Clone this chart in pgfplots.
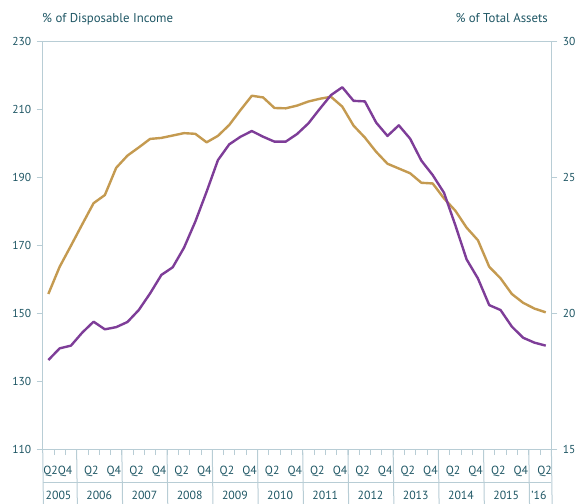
\documentclass[border=0pt]{standalone}
\usepackage{fontspec}
\setmainfont{PT Sans}
\usepackage{pgfplots}
\usepackage{pgfplotstable}
\pgfplotsset{compat=1.18}
\definecolor{cGold}{HTML}{C49A50}
\definecolor{cPurp}{HTML}{7E3D98}
\definecolor{cTxt}{HTML}{1E5664}
\definecolor{cAx}{HTML}{B8CDD5}

% x = quarter index, 0 = 2005 Q2 ... 44 = 2016 Q2
\pgfplotstableread{
q val
0 155.6
1 163.6
2 169.8
3 176.1
4 182.3
5 184.7
6 192.7
7 196.3
8 198.7
9 201.2
10 201.5
11 202.2
12 202.9
13 202.7
14 200.2
15 202.1
16 205.3
17 209.7
18 213.9
19 213.4
20 210.3
21 210.2
22 211.0
23 212.2
24 213.0
25 213.6
26 210.7
27 205.1
28 201.6
29 197.4
30 193.9
31 192.5
32 191.1
33 188.3
34 188.1
35 183.7
36 180.1
37 175.1
38 171.4
39 163.6
40 160.2
41 155.6
42 153.0
43 151.3
44 150.2
}\tblIncome
\pgfplotstableread{
q val
0 18.27
1 18.70
2 18.80
3 19.28
4 19.68
5 19.40
6 19.48
7 19.67
8 20.11
9 20.72
10 21.40
11 21.68
12 22.40
13 23.36
14 24.46
15 25.62
16 26.20
17 26.48
18 26.69
19 26.48
20 26.30
21 26.30
22 26.58
23 26.97
24 27.50
25 28.01
26 28.30
27 27.80
28 27.78
29 27.00
30 26.51
31 26.90
32 26.41
33 25.60
34 25.07
35 24.42
36 23.23
37 21.97
38 21.27
39 20.29
40 20.11
41 19.50
42 19.09
43 18.91
44 18.80
}\tblAssets

\tikzset{
  lbl/.style={font=\fontsize{11.8}{13}\selectfont, text=cTxt},
  ttl/.style={font=\fontsize{12.8}{14}\selectfont, text=cTxt},
}
\pgfplotsset{
  base/.style={
    scale only axis, width=508.7pt, height=408pt,
    xmin=-0.5, xmax=44.5, clip=false,
    axis line style={cAx, line width=1pt},
    tick style={cAx, line width=0.8pt},
    major tick length=6pt, tick align=outside,
    tick label style={font=\fontsize{11.5}{13}\selectfont, text=cTxt},
    /pgf/number format/assume math mode=true,
  },
}

\begin{document}
\begin{tikzpicture}
\useasboundingbox (-42.7pt,-54pt) rectangle (537.3pt,449pt);
\begin{axis}[base,
  ymin=110, ymax=230, ytick={110,130,...,230},
  tick pos=left,
  xtick={0.5,1.5,...,43.5}, xticklabels={},
  yticklabel style={xshift=-2pt},
]
  \addplot[cGold, line width=2.4pt, line join=round] table[x=q,y=val] {\tblIncome};
  % label area below the plot
  \draw[cAx, line width=1pt] ([yshift=-33pt]rel axis cs:0,0) -- ([yshift=-33pt]rel axis cs:1,0);
  \draw[cAx, line width=1pt] (rel axis cs:0,0) -- ++(0,-60pt);
  \draw[cAx, line width=1pt] (rel axis cs:1,0) -- ++(0,-60pt);
  \pgfplotsinvokeforeach{2.5,6.5,...,42.5}{
    \draw[cAx, line width=1pt] (axis cs:#1,110) -- ++(0,-60pt);
  }
  \pgfplotsinvokeforeach{2006,...,2015}{
    \node[lbl] at (axis cs:{(#1-2005)*4-0.2},110) [yshift=-22pt] {Q2};
    \node[lbl] at (axis cs:{(#1-2005)*4+1.8},110) [yshift=-22pt] {Q4};
    \node[lbl] at (axis cs:{(#1-2005)*4+0.5},110) [yshift=-46.5pt] {#1};
  }
  \node[lbl, anchor=west, inner sep=0pt] at (axis cs:-0.5,110) [xshift=0.5pt, yshift=-22pt] {Q2Q4};
  \node[lbl] at (axis cs:0.9,110) [yshift=-46.5pt] {2005};
  \node[lbl] at (axis cs:43.9,110) [yshift=-22pt] {Q2};
  \node[lbl] at (axis cs:43.4,110) [yshift=-46.5pt] {’16};
  % axis titles
  \node[ttl, anchor=base west] at ([xshift=-4pt, yshift=19pt]rel axis cs:0,1) {\% of Disposable Income};
  \node[ttl, anchor=base east] at ([yshift=19pt]rel axis cs:1,1) {\% of Total Assets};
\end{axis}
\begin{axis}[base,
  ymin=15, ymax=30, ytick={15,20,25,30},
  axis y line*=right, axis x line=none,
  yticklabel style={xshift=2pt},
]
  \addplot[cPurp, line width=2.4pt, line join=round] table[x=q,y=val] {\tblAssets};
\end{axis}
\end{tikzpicture}
\end{document}
